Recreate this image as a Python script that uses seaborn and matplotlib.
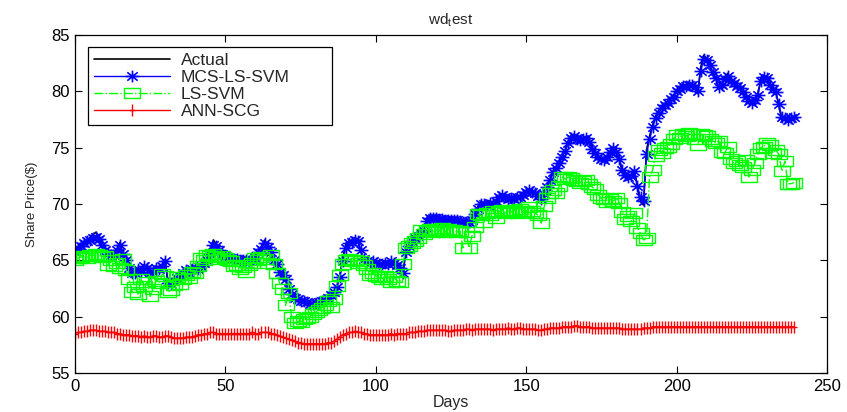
import numpy as np
import matplotlib
matplotlib.use("Agg")
import matplotlib.pyplot as plt
from matplotlib.path import Path
import seaborn as sns

# Test-period share prices (days 0..239)
days = np.arange(240)

actual = [
    65.9, 66.2, 66.5, 66.6, 66.8, 67.0, 67.3, 67.5, 67.0, 66.4,
    65.8, 65.6, 65.4, 65.5, 66.0, 66.6, 65.4, 64.9, 64.2, 63.8,
    63.9, 64.3, 63.9, 64.6, 64.2, 63.8, 64.0, 64.4, 64.1, 64.6,
    65.1, 62.6, 62.8, 63.2, 63.4, 63.7, 63.9, 64.1, 63.8, 64.2,
    64.3, 64.1, 64.6, 64.9, 65.1, 65.8, 66.8, 66.4, 65.9, 65.5,
    65.4, 65.3, 65.1, 65.0, 65.2, 64.9, 65.1, 65.0, 64.8, 65.1,
    65.3, 65.8, 66.2, 66.8, 66.3, 65.6, 64.9, 64.6, 63.9, 63.6,
    63.3, 62.3, 61.9, 61.6, 61.5, 61.3, 61.4, 61.2, 61.0, 60.9,
    61.2, 61.3, 61.4, 61.5, 61.7, 61.9, 62.2, 62.6, 63.6, 65.2,
    66.4, 66.7, 66.8, 67.0, 66.9, 65.8, 65.0, 64.8, 64.7, 64.9,
    64.8, 64.6, 64.7, 64.9, 64.6, 65.0, 64.8, 64.5, 64.3, 63.6,
    66.0, 66.5, 66.9, 67.1, 67.3, 67.4, 67.6, 68.8, 69.0, 68.8,
    68.9, 68.7, 68.8, 68.6, 68.7, 68.5, 68.6, 68.7, 68.5, 68.4,
    68.3, 68.4, 68.6, 69.3, 69.8, 70.1, 70.0, 69.9, 70.2, 70.0,
    70.3, 70.7, 70.9, 70.6, 70.4, 70.5, 70.4, 70.7, 70.6, 70.9,
    71.2, 71.3, 71.1, 71.0, 70.6, 70.3, 71.0, 71.6, 72.3, 72.9,
    73.3, 73.7, 74.3, 74.8, 75.6, 76.1, 76.2, 75.9, 75.7, 75.9,
    76.0, 75.5, 74.9, 74.4, 74.1, 73.9, 73.8, 74.2, 74.7, 75.1,
    74.6, 73.9, 72.8, 72.5, 72.3, 72.5, 73.0, 71.4, 70.2, 69.9,
    74.8, 76.0, 77.0, 77.8, 78.3, 78.6, 78.9, 79.1, 79.4, 79.6,
    80.1, 80.3, 80.6, 80.5, 80.7, 80.6, 80.4, 79.8, 82.1, 83.2,
    82.9, 82.3, 81.7, 81.2, 80.2, 80.6, 81.2, 81.6, 80.9, 80.7,
    80.5, 80.3, 79.9, 79.4, 79.0, 78.9, 79.2, 79.8, 81.1, 81.4,
    81.3, 80.5, 80.1, 79.9, 78.7, 77.4, 77.6, 77.5, 77.6, 77.7,
]

mcs_ls_svm = [
    65.8, 66.0, 66.3, 66.5, 66.7, 66.8, 67.0, 67.1, 66.9, 66.4,
    65.9, 65.6, 65.5, 65.5, 65.9, 66.4, 65.6, 65.0, 64.3, 63.9,
    63.9, 64.2, 64.0, 64.5, 64.3, 63.9, 64.0, 64.3, 64.2, 64.5,
    64.9, 63.0, 62.9, 63.2, 63.4, 63.6, 63.9, 64.1, 63.9, 64.2,
    64.3, 64.2, 64.5, 64.8, 65.0, 65.6, 66.4, 66.3, 65.9, 65.6,
    65.4, 65.3, 65.2, 65.1, 65.1, 65.0, 65.0, 65.0, 64.9, 65.0,
    65.2, 65.7, 66.0, 66.5, 66.2, 65.7, 65.0, 64.7, 64.0, 63.7,
    63.3, 62.5, 62.0, 61.7, 61.6, 61.4, 61.4, 61.3, 61.1, 61.1,
    61.2, 61.3, 61.4, 61.5, 61.7, 61.9, 62.2, 62.6, 63.5, 64.9,
    66.1, 66.5, 66.6, 66.8, 66.7, 65.9, 65.1, 64.9, 64.8, 64.9,
    64.8, 64.7, 64.7, 64.8, 64.7, 64.9, 64.8, 64.6, 64.3, 63.9,
    65.7, 66.3, 66.7, 67.0, 67.2, 67.4, 67.6, 68.5, 68.8, 68.8,
    68.8, 68.7, 68.7, 68.6, 68.6, 68.6, 68.6, 68.6, 68.5, 68.4,
    68.4, 68.4, 68.6, 69.1, 69.6, 70.0, 70.0, 69.9, 70.1, 70.0,
    70.3, 70.6, 70.8, 70.6, 70.4, 70.5, 70.4, 70.6, 70.6, 70.8,
    71.1, 71.2, 71.1, 71.0, 70.7, 70.4, 70.9, 71.5, 72.1, 72.8,
    73.2, 73.6, 74.2, 74.7, 75.4, 75.9, 76.0, 75.8, 75.7, 75.8,
    75.9, 75.5, 74.9, 74.5, 74.2, 74.0, 73.9, 74.2, 74.6, 75.0,
    74.6, 74.0, 73.0, 72.6, 72.4, 72.5, 72.9, 71.6, 70.6, 70.3,
    74.4, 75.8, 76.8, 77.6, 78.1, 78.5, 78.8, 79.0, 79.3, 79.5,
    80.0, 80.2, 80.5, 80.5, 80.6, 80.6, 80.4, 80.0, 81.8, 82.9,
    82.8, 82.3, 81.7, 81.2, 80.4, 80.6, 81.1, 81.4, 80.9, 80.7,
    80.5, 80.3, 79.9, 79.5, 79.1, 79.0, 79.2, 79.7, 80.9, 81.3,
    81.2, 80.6, 80.2, 79.9, 78.9, 77.7, 77.6, 77.5, 77.6, 77.7,
]

ls_svm = [
    65.0, 65.2, 65.3, 65.4, 65.2, 65.5, 65.4, 65.6, 65.5, 65.3,
    65.4, 64.6, 65.0, 64.5, 64.8, 64.3, 65.1, 64.1, 63.3, 62.2,
    62.6, 62.0, 63.3, 62.7, 63.1, 61.8, 62.5, 63.2, 63.0, 63.8,
    63.6, 62.2, 62.4, 62.8, 63.5, 62.9, 63.3, 63.7, 63.4, 64.0,
    63.9, 64.5, 65.2, 65.0, 65.5, 65.4, 65.6, 65.3, 65.1, 65.4,
    65.2, 65.0, 64.9, 64.5, 64.6, 64.2, 64.4, 64.0, 64.6, 64.8,
    65.2, 65.0, 65.3, 65.1, 64.8, 65.5, 64.7, 63.9, 63.0, 62.5,
    61.0, 62.1, 60.0, 59.4, 59.6, 59.5, 59.8, 59.9, 60.0, 60.2,
    60.4, 60.6, 60.8, 61.0, 61.4, 60.9, 61.6, 62.7, 63.7, 64.7,
    65.0, 65.1, 64.9, 65.0, 64.8, 64.9, 64.6, 64.2, 63.7, 63.9,
    63.6, 63.5, 63.3, 63.6, 63.3, 63.1, 63.5, 63.2, 63.1, 64.7,
    66.1, 66.3, 66.5, 66.7, 67.0, 67.7, 67.3, 67.6, 67.8, 67.5,
    67.7, 67.6, 67.9, 67.5, 67.8, 67.6, 67.7, 67.5, 67.6, 66.1,
    67.5, 66.1, 67.2, 68.0, 69.1, 69.0, 68.4, 69.2, 69.0, 69.4,
    68.8, 69.3, 69.5, 69.2, 69.4, 69.3, 69.5, 69.2, 69.6, 69.4,
    69.3, 69.7, 69.4, 69.2, 69.0, 68.3, 69.8, 70.5, 71.0, 71.2,
    71.0, 71.6, 72.4, 72.2, 72.4, 72.3, 72.1, 72.0, 71.9, 72.0,
    72.1, 71.8, 71.5, 71.3, 70.8, 70.5, 70.4, 70.2, 70.4, 70.3,
    70.5, 70.1, 69.3, 68.7, 68.9, 68.5, 69.2, 67.9, 67.4, 66.8,
    67.0, 72.4, 73.0, 74.3, 74.8, 74.5, 75.0, 75.1, 75.3, 75.8,
    76.1, 75.9, 76.2, 76.0, 76.3, 76.2, 75.8, 75.2, 76.2, 76.1,
    76.0, 75.8, 75.6, 75.4, 75.6, 74.6, 74.5, 75.1, 74.0, 73.6,
    73.8, 73.5, 73.3, 73.9, 72.4, 73.0, 73.6, 74.4, 75.0, 75.1,
    75.4, 75.2, 74.5, 74.8, 74.4, 72.9, 73.8, 71.8, 71.8, 71.9,
]

ann_scg = [
    58.5, 58.6, 58.6, 58.7, 58.7, 58.8, 58.8, 58.8, 58.7, 58.7,
    58.7, 58.6, 58.6, 58.6, 58.5, 58.5, 58.4, 58.4, 58.4, 58.3,
    58.3, 58.3, 58.2, 58.3, 58.2, 58.2, 58.3, 58.3, 58.2, 58.2,
    58.3, 58.3, 58.2, 58.1, 58.1, 58.1, 58.1, 58.2, 58.2, 58.2,
    58.3, 58.4, 58.4, 58.5, 58.5, 58.6, 58.6, 58.5, 58.5, 58.5,
    58.5, 58.5, 58.5, 58.5, 58.5, 58.5, 58.5, 58.5, 58.5, 58.6,
    58.5, 58.5, 58.6, 58.6, 58.6, 58.5, 58.5, 58.4, 58.3, 58.2,
    58.1, 58.0, 57.9, 57.8, 57.7, 57.7, 57.6, 57.6, 57.6, 57.6,
    57.6, 57.6, 57.6, 57.6, 57.7, 57.7, 57.8, 58.0, 58.2, 58.4,
    58.5, 58.6, 58.6, 58.7, 58.6, 58.6, 58.5, 58.5, 58.4, 58.4,
    58.4, 58.4, 58.4, 58.4, 58.4, 58.5, 58.4, 58.5, 58.5, 58.5,
    58.5, 58.6, 58.6, 58.6, 58.7, 58.7, 58.7, 58.8, 58.8, 58.8,
    58.8, 58.8, 58.8, 58.8, 58.7, 58.7, 58.8, 58.8, 58.8, 58.8,
    58.9, 58.9, 58.8, 58.9, 58.9, 58.9, 58.9, 58.9, 58.9, 58.8,
    58.9, 58.9, 58.9, 58.9, 59.0, 58.9, 58.9, 59.0, 59.0, 58.9,
    58.9, 58.9, 58.9, 58.9, 58.8, 58.8, 58.9, 58.9, 59.0, 59.0,
    59.0, 59.0, 59.1, 59.1, 59.1, 59.1, 59.2, 59.2, 59.1, 59.1,
    59.1, 59.1, 59.0, 59.0, 59.0, 59.0, 59.0, 59.0, 59.0, 59.0,
    59.0, 59.0, 58.9, 58.9, 58.9, 58.9, 58.9, 58.9, 58.9, 59.0,
    59.0, 59.0, 59.1, 59.1, 59.1, 59.1, 59.1, 59.1, 59.1, 59.1,
    59.1, 59.1, 59.1, 59.1, 59.1, 59.1, 59.1, 59.1, 59.1, 59.1,
    59.1, 59.1, 59.1, 59.1, 59.1, 59.1, 59.1, 59.1, 59.1, 59.1,
    59.1, 59.1, 59.1, 59.1, 59.1, 59.1, 59.1, 59.1, 59.1, 59.1,
    59.1, 59.1, 59.1, 59.1, 59.1, 59.1, 59.1, 59.1, 59.1, 59.1,
]

x_ticks = [0, 50, 100, 150, 200, 250]
y_ticks = [55, 60, 65, 70, 75, 80, 85]

sns.set_theme(style="ticks")
plt.rcParams['font.family'] = ['Liberation Sans', 'DejaVu Sans']
plt.rcParams['mathtext.fontset'] = 'custom'
plt.rcParams['mathtext.rm'] = 'Liberation Sans'

# Wide marker shapes: asterisk, open box and plus
M, L, C = Path.MOVETO, Path.LINETO, Path.CLOSEPOLY
star = Path([(-1, 0), (1, 0), (0, -0.85), (0, 0.85),
             (-0.75, -0.6), (0.75, 0.6), (-0.75, 0.6), (0.75, -0.6)],
            [M, L, M, L, M, L, M, L])
box = Path([(-1, -0.62), (1, -0.62), (1, 0.62), (-1, 0.62), (-1, -0.62)],
           [M, L, L, L, C])
plus = Path([(-0.6, 0), (0.6, 0), (0, -1), (0, 1)], [M, L, M, L])

fig = plt.figure(figsize=(8.47, 4.12), dpi=100)
ax = fig.add_axes([75 / 847, 1 - 373 / 412, 752 / 847, 338 / 412])

common = dict(ax=ax, estimator=None, sort=False)
sns.lineplot(x=days, y=actual, color='black', lw=1.2, label='Actual', **common)
sns.lineplot(x=days, y=mcs_ls_svm, color='#0000ff', lw=1.0, marker=star,
             ms=10, mec='#0000ff', mfc='none', mew=1.2,
             label='MCS-LS-SVM', **common)
sns.lineplot(x=days, y=ls_svm, color='#00ff00', lw=1.0, linestyle='-.',
             marker=box, ms=11, mec='#00ff00', mfc='none', mew=1.0,
             label='LS-SVM', **common)
sns.lineplot(x=days, y=ann_scg, color='#ff0000', lw=1.0, marker=plus,
             ms=8, mec='#ff0000', mfc='none', mew=1.0,
             label='ANN-SCG', **common)

ax.set_xlim(0, 250)
ax.set_ylim(55, 85)
ax.set_xticks(x_ticks)
ax.set_yticks(y_ticks)
ax.tick_params(direction='in', top=True, right=True, length=5, width=0.8,
               labelsize=12, colors='black', pad=4)
for s in ax.spines.values():
    s.set_visible(True)
    s.set_color('black')
    s.set_linewidth(0.9)

ax.set_title('wd$_\\mathregular{t}$est', fontsize=11, pad=8)
ax.set_xlabel('Days', fontsize=11.5, labelpad=1)
ax.set_ylabel('Share Price($)', fontsize=9.5, labelpad=9)

leg_w = (332 - 88) / 752
leg_h = (125 - 47) / 338
leg_top = 1 - (47 - 35) / 338
leg = ax.legend(loc='upper left',
                bbox_to_anchor=(13 / 752, leg_top - leg_h, leg_w, leg_h),
                mode='expand', borderaxespad=0, frameon=True, fancybox=False,
                edgecolor='black', fontsize=12.5, handlelength=4.4,
                handletextpad=0.6, labelspacing=0.1, borderpad=0.35,
                numpoints=1)
leg.get_frame().set_linewidth(0.9)
leg.get_frame().set_alpha(1)

fig.savefig('out.png', dpi=100, facecolor='white')
